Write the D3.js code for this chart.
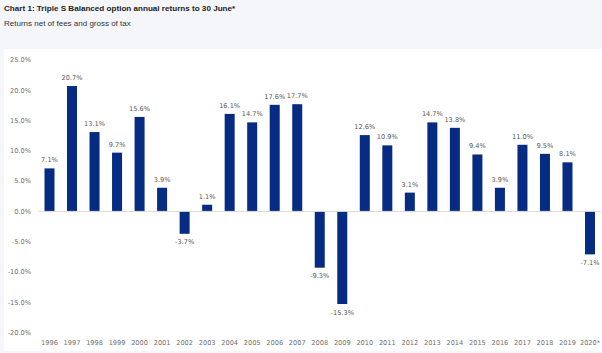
<!DOCTYPE html>
<html>
<head>
<meta charset="utf-8">
<script src="https://cdn.jsdelivr.net/npm/d3@7"></script>
<style>
  html, body { margin: 0; padding: 0; background: #f4f6fa; }
  svg { display: block; }
</style>
</head>
<body>
<div id="chart"></div>
<script>
// Triple S Balanced option annual returns (%)
const years = ["1996", "1997", "1998", "1999", "2000", "2001", "2002", "2003", "2004", "2005",
  "2006", "2007", "2008", "2009", "2010", "2011", "2012", "2013", "2014", "2015",
  "2016", "2017", "2018", "2019", "2020*"];
const returns = [7.1, 20.7, 13.1, 9.7, 15.6, 3.9, -3.7, 1.1, 16.1, 14.7,
  17.6, 17.7, -9.3, -15.3, 12.6, 10.9, 3.1, 14.7, 13.8, 9.4,
  3.9, 11.0, 9.5, 8.1, -7.1];
const yTicks = [25, 20, 15, 10, 5, 0, -5, -10, -15, -20];

const title = "Chart 1: Triple S Balanced option annual returns to 30 June*";
const subtitle = "Returns net of fees and gross of tax";

const width = 602, height = 353;
const barColor = "#062b82";
const labelFont = "'DejaVu Sans', sans-serif";

const svg = d3.select("#chart").append("svg")
  .attr("width", width)
  .attr("height", height);

// header texts
svg.append("text")
  .attr("x", 4).attr("y", 11)
  .style("font-family", "Arial, 'Liberation Sans', sans-serif")
  .style("font-size", "8.1px")
  .style("font-weight", "bold")
  .attr("fill", "#222")
  .text(title);

svg.append("text")
  .attr("x", 4).attr("y", 26)
  .style("font-family", "Arial, 'Liberation Sans', sans-serif")
  .style("font-size", "8px")
  .attr("fill", "#333")
  .text(subtitle);

// white chart panel
svg.append("rect")
  .attr("x", 4).attr("y", 49)
  .attr("width", width - 4).attr("height", 302)
  .attr("fill", "#fff");

const x = d3.scaleBand()
  .domain(years)
  .range([38.5, 601])
  .paddingInner(0.556)
  .paddingOuter(0.266);

const y = d3.scaleLinear()
  .domain([-20, 25])
  .range([332.5, 60]);

// y tick labels
svg.append("g")
  .selectAll("text")
  .data(yTicks)
  .join("text")
  .attr("x", 31)
  .attr("y", d => y(d))
  .attr("dy", "0.35em")
  .attr("text-anchor", "end")
  .style("font-family", labelFont)
  .style("font-size", "6.6px")
  .attr("fill", "#707070")
  .text(d => d.toFixed(1) + "%");

// bars
svg.append("g")
  .selectAll("rect")
  .data(returns)
  .join("rect")
  .attr("x", (d, i) => x(years[i]))
  .attr("width", x.bandwidth())
  .attr("y", d => y(Math.max(0, d)))
  .attr("height", d => Math.abs(y(d) - y(0)))
  .attr("fill", barColor);

// zero line
svg.append("line")
  .attr("x1", 38.5).attr("x2", 601)
  .attr("y1", y(0)).attr("y2", y(0))
  .attr("stroke", "#d9d9d9")
  .attr("stroke-width", 1);

// value labels
svg.append("g")
  .selectAll("text")
  .data(returns)
  .join("text")
  .attr("x", (d, i) => x(years[i]) + x.bandwidth() / 2)
  .attr("y", d => d >= 0 ? y(d) - 6 : y(d) + 6)
  .attr("dy", d => d >= 0 ? "0em" : "0.7em")
  .attr("text-anchor", "middle")
  .style("font-family", labelFont)
  .style("font-size", "6.6px")
  .attr("fill", "#5a5a5a")
  .text(d => d.toFixed(1) + "%");

// year labels
svg.append("g")
  .selectAll("text")
  .data(years)
  .join("text")
  .attr("x", d => x(d) + x.bandwidth() / 2)
  .attr("y", 343)
  .attr("dy", "0.35em")
  .attr("text-anchor", "middle")
  .style("font-family", labelFont)
  .style("font-size", "6.6px")
  .attr("fill", "#707070")
  .text(d => d);
</script>
</body>
</html>
